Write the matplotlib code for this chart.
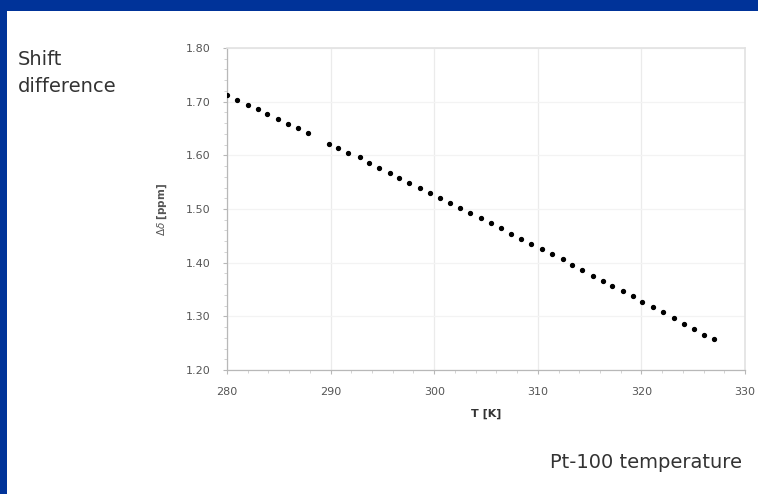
import matplotlib
matplotlib.use("Agg")
import matplotlib.pyplot as plt
from matplotlib.patches import Rectangle
from matplotlib.ticker import MultipleLocator

# data (Pt-100 temperature vs shift difference)
temp_k = [280.0, 281.0, 282.0, 283.0, 283.9, 284.9, 285.9, 286.9, 287.8,
          289.8, 290.7, 291.7, 292.8, 293.7, 294.7, 295.7, 296.6, 297.6,
          298.6, 299.6, 300.6, 301.5, 302.5, 303.5, 304.5, 305.5, 306.4,
          307.4, 308.4, 309.3, 310.4, 311.4, 312.4, 313.3, 314.3, 315.3,
          316.3, 317.2, 318.2, 319.2, 320.1, 321.1, 322.1, 323.1, 324.1,
          325.1, 326.0, 327.0]
shift_ppm = [1.712, 1.704, 1.694, 1.686, 1.677, 1.668, 1.658, 1.650, 1.641,
             1.622, 1.613, 1.604, 1.596, 1.586, 1.576, 1.568, 1.558, 1.549,
             1.539, 1.530, 1.521, 1.512, 1.502, 1.493, 1.483, 1.473, 1.464,
             1.454, 1.444, 1.435, 1.425, 1.416, 1.406, 1.396, 1.386, 1.376,
             1.366, 1.357, 1.347, 1.337, 1.327, 1.317, 1.308, 1.296, 1.286,
             1.276, 1.265, 1.257]
x_ticks = [280, 290, 300, 310, 320, 330]
y_ticks = [1.20, 1.30, 1.40, 1.50, 1.60, 1.70, 1.80]

blue = "#003399"
txt = "#333333"

fig = plt.figure(figsize=(7.58, 4.94), dpi=100)
fig.patch.set_facecolor("white")

# slide frame: blue band on top and left
fig.add_artist(Rectangle((0, 1 - 11 / 494), 1, 11 / 494, transform=fig.transFigure,
                         facecolor=blue, edgecolor="none"))
fig.add_artist(Rectangle((0, 0), 7 / 758, 1, transform=fig.transFigure,
                         facecolor=blue, edgecolor="none"))

ax = fig.add_axes([227 / 758, 1 - 370 / 494, 518 / 758, 322 / 494])
ax.plot(temp_k, shift_ppm, linestyle="none", marker="o", markersize=2.8,
        color="black", zorder=3)

ax.set_xlim(280, 330)
ax.set_ylim(1.20, 1.80)
ax.set_xticks(x_ticks)
ax.set_yticks(y_ticks)
ax.set_yticklabels([f"{v:.2f}" for v in y_ticks])
ax.xaxis.set_minor_locator(MultipleLocator(2))
ax.yaxis.set_minor_locator(MultipleLocator(0.02))

ax.grid(axis="x", which="major", color="#ebebeb", linewidth=0.9)
ax.grid(axis="y", which="major", color="#f3f3f3", linewidth=0.9)
ax.set_axisbelow(True)

for s in ["left", "bottom"]:
    ax.spines[s].set_color("#b8b8b8")
    ax.spines[s].set_linewidth(0.9)
for s in ["top", "right"]:
    ax.spines[s].set_color("#e2e2e2")
    ax.spines[s].set_linewidth(1.2)

ax.tick_params(which="major", length=3, width=0.8, color="#b8b8b8",
               labelsize=8, labelcolor="#555555", pad=9)
ax.tick_params(which="minor", length=2, width=0.6, color="#cccccc")

ax.set_xlabel("T [K]", fontsize=8, fontweight="bold", color="#333333", labelpad=9)
ax.set_ylabel(r"$\Delta\delta$ $\mathbf{[ppm]}$", fontsize=7.5, color="#555555",
              labelpad=12)

fig.text(18 / 758, 1 - 50 / 494, "Shift\ndifference", fontsize=14, color=txt,
         ha="left", va="top", linespacing=1.55)
fig.text(742 / 758, 1 - 462 / 494, "Pt-100 temperature", fontsize=14, color=txt,
         ha="right", va="center")

fig.savefig("out.png", dpi=100, facecolor=fig.get_facecolor())
